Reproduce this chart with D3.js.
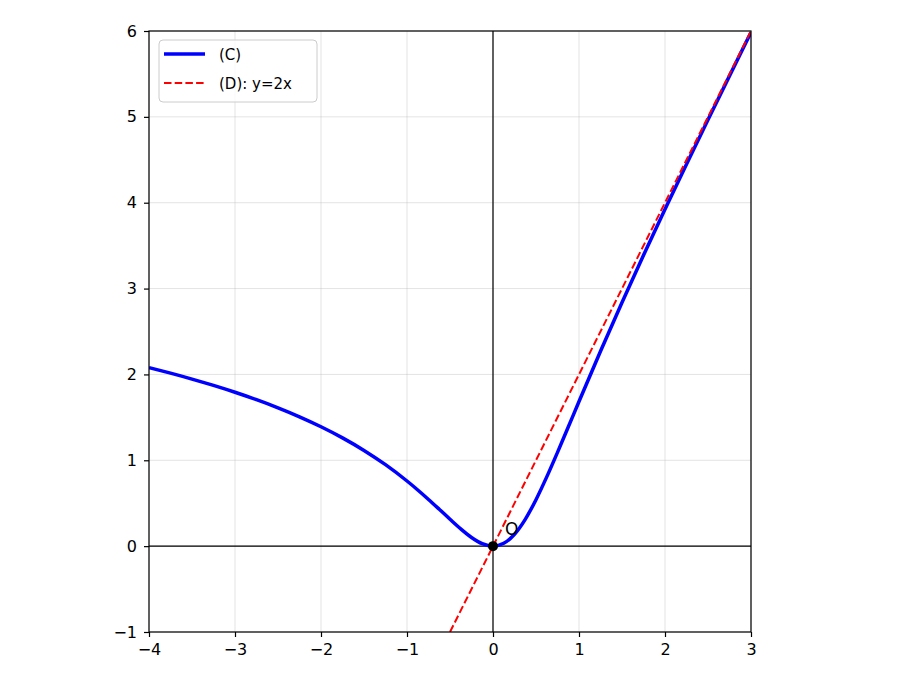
<!DOCTYPE html>
<html>
<head>
<meta charset="utf-8">
<script src="https://cdn.jsdelivr.net/npm/d3@7"></script>
<style>
  body { margin: 0; background: #fff; }
  svg text { font-family: "DejaVu Sans", sans-serif; fill: #000; }
</style>
</head>
<body>
<div id="chart"></div>
<script>
// curve (C), points
const curveX = [-4, -3.75, -3.5, -3.25, -3, -2.75, -2.5, -2.25, -2, -1.75, -1.5, -1.25, -1,
  -0.875, -0.75, -0.625, -0.5, -0.375, -0.25, -0.125, 0, 0.125, 0.25, 0.375, 0.5, 0.625,
  0.75, 0.875, 1, 1.25, 1.5, 1.75, 2, 2.25, 2.5, 2.75, 3];
const curveY = [2.0795, 2.0150, 1.9460, 1.8720, 1.7922, 1.7055, 1.6108, 1.5065, 1.3909, 1.2613,
  1.1151, 0.9486, 0.7586, 0.6543, 0.5441, 0.4295, 0.3133, 0.2008, 0.1012, 0.0284, 0, 0.0335,
  0.1387, 0.3126, 0.5413, 0.8066, 1.0925, 1.3874, 1.6844, 2.2703, 2.8382, 3.3883, 3.9239,
  4.4487, 4.9657, 5.4773, 5.9850];

// line (D): y=2x, visible part
const lineX = [-0.5, 3];
const lineY = [-1, 6];

const xTicks = [-4, -3, -2, -1, 0, 1, 2, 3];
const yTicks = [-1, 0, 1, 2, 3, 4, 5, 6];
const legendLabels = ["(C)", "(D): y=2x"];

const width = 900, height = 690;
const margin = {top: 31, right: 149, bottom: 58, left: 149};

const svg = d3.select("#chart").append("svg")
    .attr("width", width)
    .attr("height", height);

const x = d3.scaleLinear().domain([-4, 3]).range([margin.left, width - margin.right]);
const y = d3.scaleLinear().domain([-1, 6]).range([height - margin.bottom, margin.top]);

// grid
svg.append("g").selectAll("line.gx")
    .data(xTicks)
    .join("line")
    .attr("x1", d => x(d)).attr("x2", d => x(d))
    .attr("y1", y(-1)).attr("y2", y(6))
    .attr("stroke", "#b0b0b0").attr("stroke-opacity", 0.35).attr("stroke-width", 1);
svg.append("g").selectAll("line.gy")
    .data(yTicks)
    .join("line")
    .attr("y1", d => y(d)).attr("y2", d => y(d))
    .attr("x1", x(-4)).attr("x2", x(3))
    .attr("stroke", "#b0b0b0").attr("stroke-opacity", 0.35).attr("stroke-width", 1);

// zero axes
svg.append("line")
    .attr("x1", x(-4)).attr("x2", x(3)).attr("y1", y(0)).attr("y2", y(0))
    .attr("stroke", "#000").attr("stroke-width", 1.2);
svg.append("line")
    .attr("x1", x(0)).attr("x2", x(0)).attr("y1", y(-1)).attr("y2", y(6))
    .attr("stroke", "#000").attr("stroke-width", 1.2);

svg.append("clipPath").attr("id", "clip")
    .append("rect")
    .attr("x", x(-4)).attr("y", y(6))
    .attr("width", x(3) - x(-4)).attr("height", y(-1) - y(6));

const plot = svg.append("g").attr("clip-path", "url(#clip)");

const curvePts = curveX.map((d, i) => [d, curveY[i]]);
const linePts = lineX.map((d, i) => [d, lineY[i]]);

const line = d3.line()
    .x(d => x(d[0]))
    .y(d => y(d[1]))
    .curve(d3.curveMonotoneX);

plot.append("path")
    .datum(curvePts)
    .attr("d", line)
    .attr("fill", "none")
    .attr("stroke", "#0000ff")
    .attr("stroke-width", 3.5);

plot.append("path")
    .datum(linePts)
    .attr("d", d3.line().x(d => x(d[0])).y(d => y(d[1])))
    .attr("fill", "none")
    .attr("stroke", "#ff0000")
    .attr("stroke-width", 2)
    .attr("stroke-dasharray", "7.5,3.2");

// origin point and label
svg.append("circle")
    .attr("cx", x(0)).attr("cy", y(0)).attr("r", 5)
    .attr("fill", "#000");
svg.append("text")
    .attr("x", x(0.14)).attr("y", y(0.135))
    .style("font-size", "17px")
    .text("O");

// axes
const xAxis = d3.axisBottom(x).tickValues(xTicks).tickSize(5).tickPadding(7)
    .tickFormat(d => d < 0 ? "\u2212" + Math.abs(d) : d);
const yAxis = d3.axisLeft(y).tickValues(yTicks).tickSize(5).tickPadding(7)
    .tickFormat(d => d < 0 ? "\u2212" + Math.abs(d) : d);

const gx = svg.append("g")
    .attr("transform", `translate(0,${y(-1)})`)
    .call(xAxis);
const gy = svg.append("g")
    .attr("transform", `translate(${x(-4)},0)`)
    .call(yAxis);
[gx, gy].forEach(g => {
    g.select(".domain").remove();
    g.selectAll("line").attr("stroke", "#000").attr("stroke-width", 1.2);
    g.selectAll("text").style("font-size", "16px").style("font-family", "DejaVu Sans").attr("fill", "#000");
});

// frame
svg.append("rect")
    .attr("x", x(-4)).attr("y", y(6))
    .attr("width", x(3) - x(-4)).attr("height", y(-1) - y(6))
    .attr("fill", "none").attr("stroke", "#000").attr("stroke-width", 1.2);

// legend
const lg = svg.append("g").attr("transform", "translate(159,40)");
lg.append("rect")
    .attr("width", 158).attr("height", 62).attr("rx", 4)
    .attr("fill", "#fff").attr("fill-opacity", 0.8)
    .attr("stroke", "#cccccc").attr("stroke-width", 1);
const legendStyles = [
    {color: "#0000ff", width: 3.5, dash: null},
    {color: "#ff0000", width: 2, dash: "7.5,3.2"}
];
legendLabels.forEach((lab, i) => {
    const yy = 14 + i * 29;
    lg.append("line")
        .attr("x1", 5).attr("x2", 46).attr("y1", yy).attr("y2", yy)
        .attr("stroke", legendStyles[i].color)
        .attr("stroke-width", legendStyles[i].width)
        .attr("stroke-dasharray", legendStyles[i].dash);
    lg.append("text")
        .attr("x", 60).attr("y", yy + 5.5)
        .style("font-size", "15px")
        .text(lab);
});
</script>
</body>
</html>
